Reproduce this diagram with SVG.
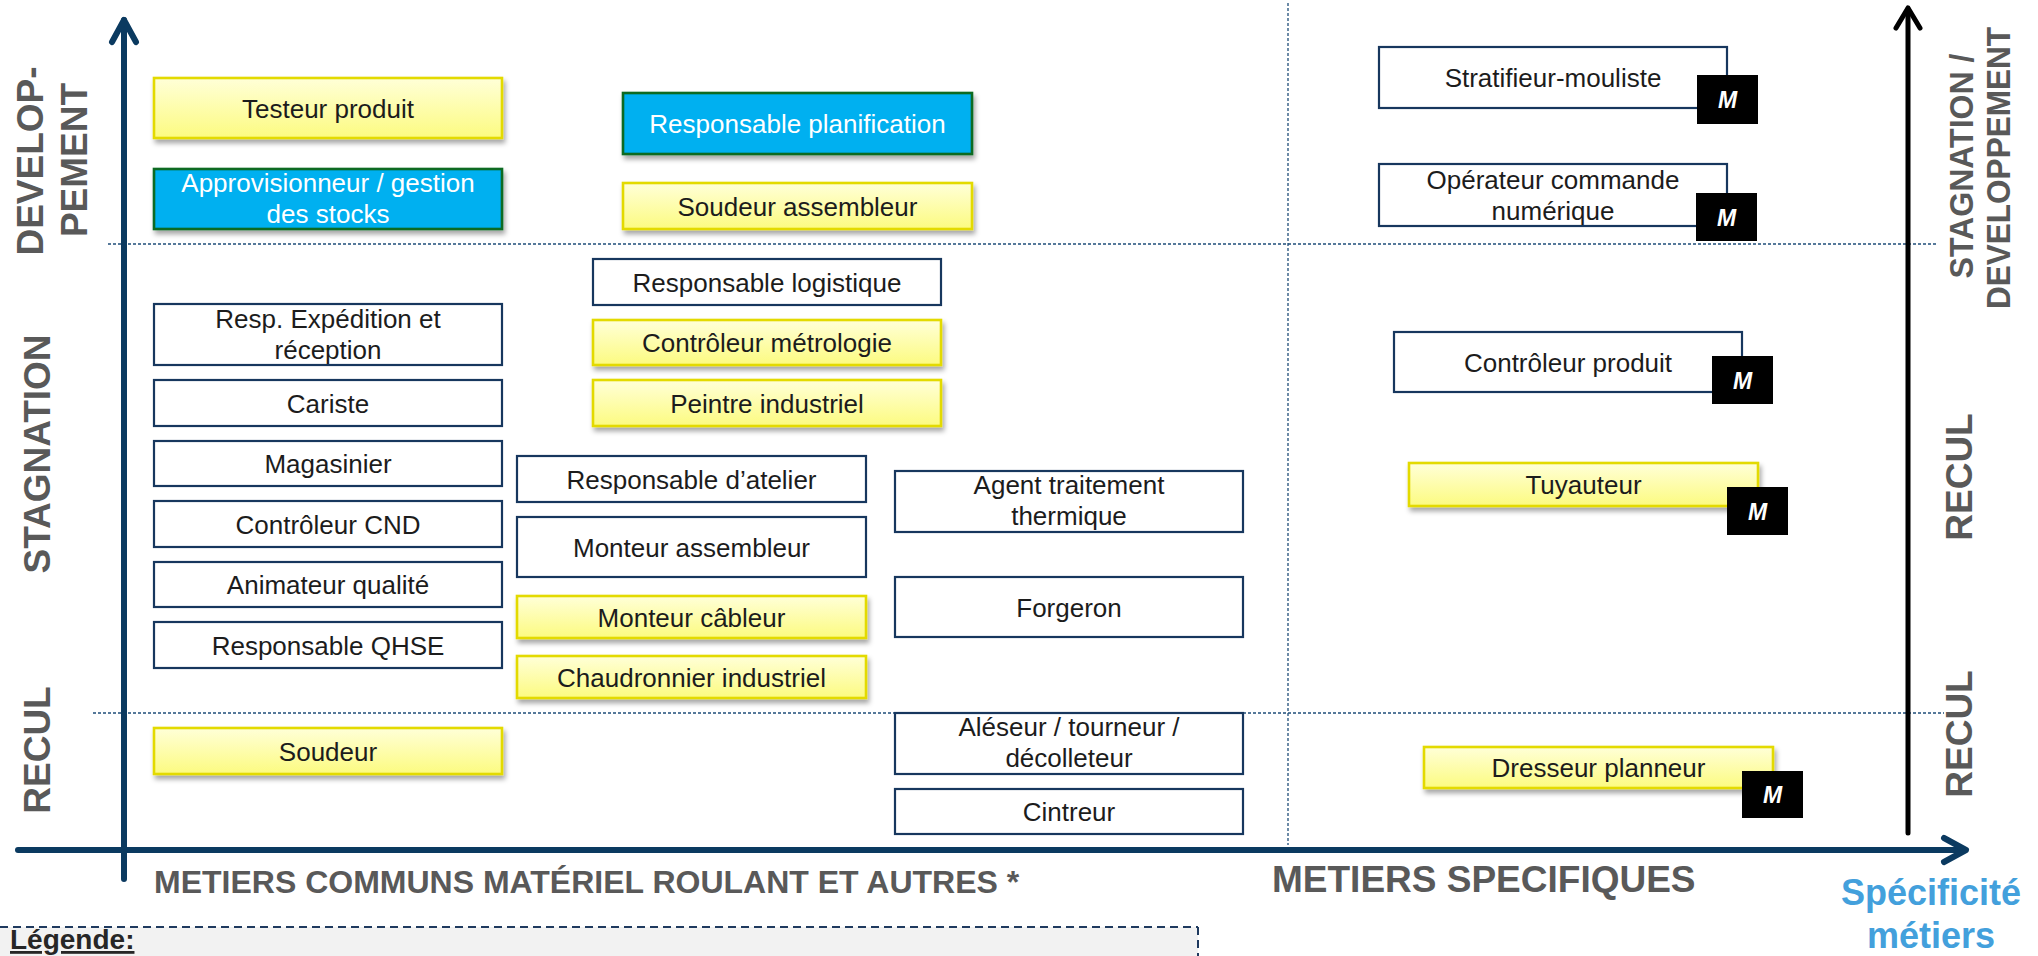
<svg xmlns="http://www.w3.org/2000/svg" width="2038" height="956" viewBox="0 0 2038 956">
  <style>
    .t { font-family: "Liberation Sans", Arial, sans-serif; font-size: 26px; fill: #1c1c1c; text-anchor: middle; }
    .tw { fill: #ffffff; }
    .white { fill: #ffffff; stroke: #17375e; stroke-width: 2.2; }
    .yellow { fill: url(#yg); stroke: #e3da00; stroke-width: 2.6; filter: url(#sh); }
    .blue { fill: #00b0f0; stroke: #0b6a24; stroke-width: 2.6; filter: url(#sh); }
    .mbox { fill: #000000; }
    .m { font-family: "Liberation Sans", Arial, sans-serif; font-size: 23px; font-weight: bold; font-style: italic; fill: #ffffff; text-anchor: middle; }
    .lab { font-family: "Liberation Sans", Arial, sans-serif; font-weight: bold; fill: #595959; text-anchor: middle; }
    .grid { stroke: #1f4e79; stroke-width: 1.3; stroke-dasharray: 3 2; fill: none; }
    .axis { stroke: #0b3a60; stroke-width: 6; fill: none; stroke-linecap: round; stroke-linejoin: round; }
    .axisk { stroke: #000000; stroke-width: 5; fill: none; stroke-linecap: round; stroke-linejoin: round; }
  </style>
  <defs>
    <linearGradient id="yg" x1="0" y1="0" x2="0" y2="1">
      <stop offset="0" stop-color="#ffffd8"/>
      <stop offset="1" stop-color="#fcfb80"/>
    </linearGradient>
    <filter id="sh" x="-5%" y="-20%" width="115%" height="170%">
      <feDropShadow dx="2" dy="4" stdDeviation="2.5" flood-color="#000000" flood-opacity="0.35"/>
    </filter>
  </defs>

  <rect width="2038" height="956" fill="#ffffff"/>

  <!-- legend strip -->
  <g id="legend">
    <rect x="0" y="927" width="1198" height="29" fill="#f2f2f2"/>
    <line x1="0" y1="927" x2="1198" y2="927" stroke="#1f3a5f" stroke-width="2" stroke-dasharray="8 5"/>
    <line x1="1198" y1="927" x2="1198" y2="956" stroke="#1f3a5f" stroke-width="2" stroke-dasharray="8 5"/>
    <text x="10" y="949" font-family="Liberation Sans, Arial, sans-serif" font-size="28" font-weight="bold" fill="#262626" text-decoration="underline">Légende:</text>
  </g>

  <!-- grid and axes -->
  <g id="connectors">
    <line class="grid" x1="1288" y1="3" x2="1288" y2="845"/>
    <line class="grid" x1="108" y1="244" x2="1938" y2="244"/>
    <line class="grid" x1="93" y1="713" x2="1944" y2="713"/>
    <!-- vertical axis, left -->
    <line class="axis" x1="124" y1="20" x2="124" y2="879" stroke-linecap="butt"/>
    <polyline class="axis" points="112,42 124,20 136,42"/>
    <!-- horizontal axis -->
    <line class="axis" x1="18" y1="850" x2="1964" y2="850" stroke-linecap="butt"/>
    <polyline class="axis" points="1944,838 1966,850 1944,862"/>
    <!-- vertical axis, right -->
    <line class="axisk" x1="1908" y1="9" x2="1908" y2="833" stroke-linecap="butt"/>
    <polyline class="axisk" points="1896,28 1908,8 1920,28"/>
  </g>

  <!-- axis titles -->
  <g id="labels">
    <text class="lab" font-size="37" transform="translate(43,161) rotate(-90)">DEVELOP-</text>
    <text class="lab" font-size="37" transform="translate(87,160) rotate(-90)">PEMENT</text>
    <text class="lab" font-size="37" transform="translate(50,454) rotate(-90)">STAGNATION</text>
    <text class="lab" font-size="37" transform="translate(50,750) rotate(-90)">RECUL</text>
    <text class="lab" font-size="34" textLength="225" lengthAdjust="spacingAndGlyphs" transform="translate(1973,166) rotate(-90)">STAGNATION /</text>
    <text class="lab" font-size="34" textLength="282" lengthAdjust="spacingAndGlyphs" transform="translate(2010,168) rotate(-90)">DEVELOPPEMENT</text>
    <text class="lab" font-size="37" transform="translate(1972,477) rotate(-90)">RECUL</text>
    <text class="lab" font-size="37" transform="translate(1972,734) rotate(-90)">RECUL</text>
    <text class="lab" font-size="32" x="154" y="893" style="text-anchor:start">METIERS COMMUNS MATÉRIEL ROULANT ET AUTRES *</text>
    <text class="lab" font-size="37" x="1272" y="892" style="text-anchor:start">METIERS SPECIFIQUES</text>
    <text class="lab" font-size="36" x="1931" y="905" style="fill:#43a0dc">Spécificité</text>
    <text class="lab" font-size="36" x="1931" y="948" style="fill:#43a0dc">métiers</text>
  </g>

  <!-- column: common trades, left -->
  <g id="testeur-produit"><rect class="yellow" x="154" y="78" width="348" height="60"/><text class="t" x="328" y="118">Testeur produit</text></g>
  <g id="approvisionneur"><rect class="blue" x="154" y="169" width="348" height="60"/><text class="t tw" x="328" y="192">Approvisionneur / gestion</text><text class="t tw" x="328" y="223">des stocks</text></g>
  <g id="resp-expedition"><rect class="white" x="154" y="304" width="348" height="61"/><text class="t" x="328" y="328">Resp. Expédition et</text><text class="t" x="328" y="359">réception</text></g>
  <g id="cariste"><rect class="white" x="154" y="380" width="348" height="46"/><text class="t" x="328" y="412.5">Cariste</text></g>
  <g id="magasinier"><rect class="white" x="154" y="441" width="348" height="45"/><text class="t" x="328" y="473">Magasinier</text></g>
  <g id="controleur-cnd"><rect class="white" x="154" y="501" width="348" height="46"/><text class="t" x="328" y="533.5">Contrôleur CND</text></g>
  <g id="animateur-qualite"><rect class="white" x="154" y="562" width="348" height="45"/><text class="t" x="328" y="594">Animateur qualité</text></g>
  <g id="responsable-qhse"><rect class="white" x="154" y="622" width="348" height="46"/><text class="t" x="328" y="654.5">Responsable QHSE</text></g>
  <g id="soudeur"><rect class="yellow" x="154" y="728" width="348" height="46"/><text class="t" x="328" y="760.5">Soudeur</text></g>

  <!-- column: common trades, middle -->
  <g id="responsable-planification"><rect class="blue" x="623" y="93" width="349" height="61"/><text class="t tw" x="797.5" y="133">Responsable planification</text></g>
  <g id="soudeur-assembleur"><rect class="yellow" x="623" y="183" width="349" height="46"/><text class="t" x="797.5" y="215.5">Soudeur assembleur</text></g>
  <g id="responsable-logistique"><rect class="white" x="593" y="259" width="348" height="46"/><text class="t" x="767" y="291.5">Responsable logistique</text></g>
  <g id="controleur-metrologie"><rect class="yellow" x="593" y="320" width="348" height="45"/><text class="t" x="767" y="352">Contrôleur métrologie</text></g>
  <g id="peintre-industriel"><rect class="yellow" x="593" y="380" width="348" height="46"/><text class="t" x="767" y="412.5">Peintre industriel</text></g>
  <g id="responsable-atelier"><rect class="white" x="517" y="456" width="349" height="46"/><text class="t" x="691.5" y="488.5">Responsable d’atelier</text></g>
  <g id="monteur-assembleur"><rect class="white" x="517" y="517" width="349" height="60"/><text class="t" x="691.5" y="556.5">Monteur assembleur</text></g>
  <g id="monteur-cableur"><rect class="yellow" x="517" y="596" width="349" height="42"/><text class="t" x="691.5" y="626.5">Monteur câbleur</text></g>
  <g id="chaudronnier-industriel"><rect class="yellow" x="517" y="656" width="349" height="42"/><text class="t" x="691.5" y="686.5">Chaudronnier industriel</text></g>

  <g id="agent-traitement-thermique"><rect class="white" x="895" y="471" width="348" height="61"/><text class="t" x="1069" y="494">Agent traitement</text><text class="t" x="1069" y="525">thermique</text></g>
  <g id="forgeron"><rect class="white" x="895" y="577" width="348" height="60"/><text class="t" x="1069" y="616.5">Forgeron</text></g>
  <g id="aleseur-tourneur-decolleteur"><rect class="white" x="895" y="713" width="348" height="61"/><text class="t" x="1069" y="736">Aléseur / tourneur /</text><text class="t" x="1069" y="767">décolleteur</text></g>
  <g id="cintreur"><rect class="white" x="895" y="789" width="348" height="45"/><text class="t" x="1069" y="821">Cintreur</text></g>

  <!-- column: specific trades -->
  <g id="stratifieur-mouliste"><rect class="white" x="1379" y="47" width="348" height="61"/><text class="t" x="1553" y="87">Stratifieur-mouliste</text><rect class="mbox" x="1697" y="75" width="61" height="49"/><text class="m" x="1727.5" y="108">M</text></g>
  <g id="operateur-commande-numerique"><rect class="white" x="1379" y="164" width="348" height="62"/><text class="t" x="1553" y="189">Opérateur commande</text><text class="t" x="1553" y="220">numérique</text><rect class="mbox" x="1696" y="193" width="61" height="48"/><text class="m" x="1726.5" y="225.5">M</text></g>
  <g id="controleur-produit"><rect class="white" x="1394" y="332" width="348" height="60"/><text class="t" x="1568" y="372">Contrôleur produit</text><rect class="mbox" x="1712" y="356" width="61" height="48"/><text class="m" x="1742.5" y="388.5">M</text></g>
  <g id="tuyauteur"><rect class="yellow" x="1409" y="463" width="349" height="43"/><text class="t" x="1583.5" y="493.5">Tuyauteur</text><rect class="mbox" x="1727" y="487" width="61" height="48"/><text class="m" x="1757.5" y="519.5">M</text></g>
  <g id="dresseur-planneur"><rect class="yellow" x="1424" y="747" width="349" height="41"/><text class="t" x="1598.5" y="777">Dresseur planneur</text><rect class="mbox" x="1742" y="771" width="61" height="47"/><text class="m" x="1772.5" y="803">M</text></g>
</svg>
